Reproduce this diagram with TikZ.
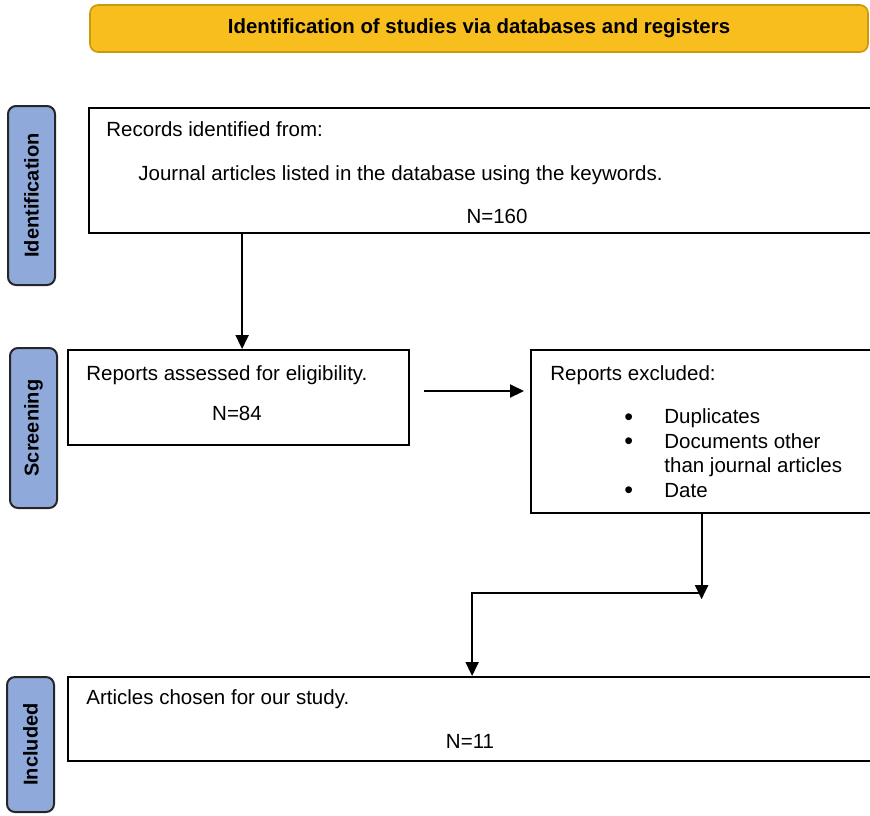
\documentclass[tikz,border=0pt]{standalone}
\usepackage{fontspec}
\setmainfont{Liberation Sans}
\usetikzlibrary{positioning,calc,arrows.meta}
\tikzset{>={Triangle[length=7pt,width=6.5pt]}}
\definecolor{headgold}{HTML}{F8BE1D}
\definecolor{headedge}{HTML}{C99A0E}
\definecolor{stageblue}{HTML}{8FA9DA}
\newcommand{\bigdot}{\raisebox{-0.9pt}{\fontsize{12.5}{10}\selectfont\textbullet}}

\begin{document}
\begin{tikzpicture}
	[x=0.5pt,y=-0.5pt,
	font=\fontsize{10.25}{12.25}\selectfont,
	header/.style={rectangle,rounded corners=4pt,draw=headedge,fill=headgold,line width=0.8pt,minimum width=389pt,minimum height=23.5pt,font=\fontsize{10.2}{12}\selectfont\bfseries},
	stage/.style={rectangle,rounded corners=4pt,draw=black!85,fill=stageblue,line width=1pt,rotate=90,minimum height=23.5pt,font=\fontsize{10}{12}\selectfont\bfseries},
	box/.style={rectangle,draw,line width=1.1pt,inner sep=0pt,anchor=north west},
	txt/.style={inner sep=0pt,anchor=west,text height=7.2pt,text depth=2pt,yshift=-1pt},
	num/.style={txt,anchor=center},
	link/.style={->,line width=1pt}]
	\useasboundingbox (0,0) rectangle (870,815);
	\node [header] (head) at (479,28.5) {Identification of studies via databases and registers};
	% stages on the left
	\node [stage,minimum width=89.5pt] (sIdent) at (31.5,195.5) {Identification};
	\node [stage,minimum width=80pt] (sScreen) at (33.5,428) {Screening};
	\node [stage,minimum width=67.5pt] (sIncl) at (30.5,744.5) {Included};
	% boxes
	\node [box,minimum width=393.5pt,minimum height=62.5pt] (rec) at (88,107) {};
	\node [box,minimum width=170.5pt,minimum height=47.5pt] (elig) at (67,349) {};
	\node [box,minimum width=172.5pt,minimum height=81.5pt] (excl) at (530,349) {};
	\node [box,minimum width=404pt,minimum height=42pt] (incl) at (67,676) {};
	% texts
	\node [txt] (recA) at ($(rec.north west)+(18,22)$) {Records identified from:};
	\node [txt] (recB) at ($(rec.north west)+(50,66)$) {Journal articles listed in the database using the keywords.};
	\node [num] (recN) at ($(rec.north west)+(409,109)$) {N=160};
	\node [txt] (eligA) at ($(elig.north west)+(19,24)$) {Reports assessed for eligibility.};
	\node [num] (eligN) at ($(elig.north west)+(170,64)$) {N=84};
	\node [txt] (exclA) at ($(excl.north west)+(20,24)$) {Reports excluded:};
	\node [inner sep=0pt,anchor=north west] (exclL) at ($(excl.north west)+(94,57)$)
		{\begin{tabular}{@{}p{20pt}@{}l@{}}
			\bigdot & Duplicates\\
			\bigdot & Documents other\\
			 & than journal articles\\
			\bigdot & Date
		\end{tabular}};
	\node [txt] (inclA) at ($(incl.north west)+(19,21)$) {Articles chosen for our study.};
	\node [num] (inclN) at ($(incl.north west)+(403,65)$) {N=11};
	% connectors
	\coordinate (gap) at (424,391);
	\coordinate (elbow) at ($(excl.south)+(-2,79)$);
	\draw [link] ([xshift=1.75pt]rec.south -| elig.north) -- ([xshift=1.75pt]elig.north);
	\draw [link,shorten >=3pt] (gap) -- (gap -| excl.west);
	\draw [link,shorten >=-3pt] (excl.south -| elbow) -- (elbow);
	\draw [link] (elbow) -| (incl.north);
\end{tikzpicture}
\end{document}
